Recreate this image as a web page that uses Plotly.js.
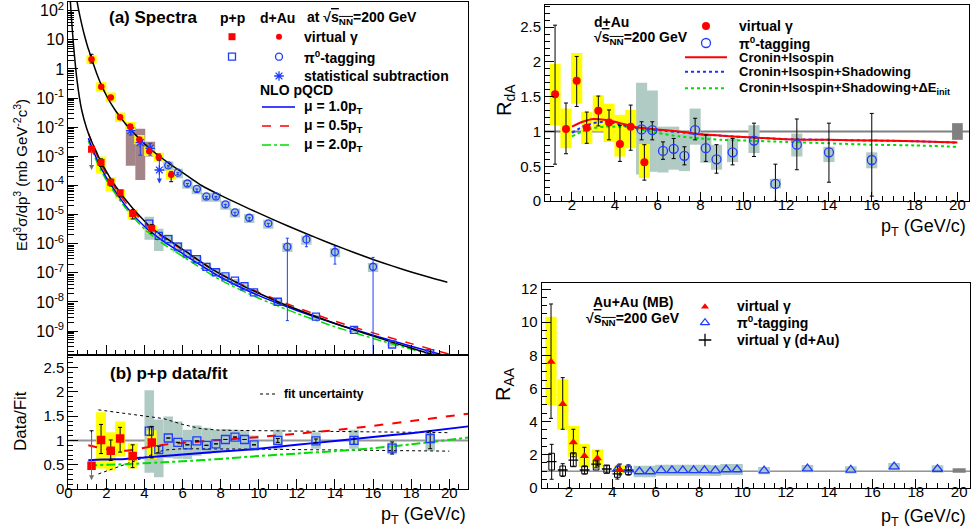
<!DOCTYPE html>
<html><head><meta charset="utf-8">
<script src="https://cdn.plot.ly/plotly-3.0.1.min.js"></script>
<style>html,body{margin:0;padding:0;background:#fff}#chart{width:972px;height:530px}</style>
</head><body><div id="chart"></div>
<script>
// ---------------- DATA ----------------
// Panel (a): spectra, d+Au
const dAuVgPt = [1.22,1.73,2.23,2.72,3.25,3.73,4.25,4.75,5.4];
const dAuVgY  = [2.14,0.245,0.106,0.0219,0.0105,3.8e-3,1.51e-3,9.3e-4,2.34e-4];
const dAuVgHi = [3.2,0.27,0.115,0.024,0.0115,4.1e-3,1.65e-3,1.2e-3,2.95e-4];
const dAuVgLo = [1.6,0.22,0.097,0.02,0.0096,3.5e-3,1.38e-3,7.5e-4,1.35e-4];
const dAuVgSysLo = [1.5,0.165,0.072,0.015,0.0072,2.6e-3,1.03e-3,6.4e-4,1.6e-4];
const dAuVgSysHi = [2.95,0.35,0.155,0.032,0.0152,5.4e-3,2.15e-3,1.33e-3,3.35e-4];

const dAuPi0Pt = [5.25,5.75,6.25,6.75,7.25,7.75,8.25,8.75,9.5,10.5,11.5,12.5,14,16];
const dAuPi0Y  = [4.9e-4,2.75e-4,1.17e-4,7.6e-5,4.2e-5,4.2e-5,2.24e-5,1.2e-5,7.8e-6,5.0e-6,7.9e-7,1.41e-6,5.2e-7,1.62e-7];
const dAuPi0Hi = [4.9e-4,2.75e-4,1.17e-4,7.6e-5,4.2e-5,4.2e-5,2.24e-5,1.2e-5,7.8e-6,5.0e-6,1.55e-6,2.0e-6,7.9e-7,3.4e-7];
const dAuPi0Lo = [4.3e-4,2.4e-4,0.95e-4,6.2e-5,3.6e-5,3.7e-5,1.8e-5,9.0e-6,6.0e-6,3.9e-6,2.3e-9,7.9e-7,2.0e-7,1e-10];
const dAuPi0SysRel = [0.36,0.36,0.34,0.34,0.34,0.34,0.34,0.34,0.34,0.34,0.34,0.34,0.34,0.34];

const dAuSubPt = [3.28,3.78,4.3,4.78];
const dAuSubY  = [7.6e-3,2.95e-3,1.9e-3,3.4e-4];
const dAuSubHi = [1.17e-2,4.2e-3,2.8e-3,7.4e-4];
const dAuSubLo = [5.4e-3,1.1e-3,1.1e-3,3.4e-4];
const dAuSubLimitTo = [null,null,null,1.17e-4];
const dAuSubSysLo = [4.8e-4,1.55e-4,9.8e-4];
const dAuSubSysHi = [1.0e-2,8.9e-3,3.16e-3];

// Panel (a): spectra, p+p
const ppVgPt = [1.22,1.72,2.23,2.72,3.38,4.38];
const ppVgY  = [1.74e-3,6.2e-4,1.29e-4,5.6e-5,1.10e-5,3.4e-6];
const ppVgHi = [1.74e-3,8.2e-4,1.65e-4,6.8e-5,1.47e-5,4.6e-6];
const ppVgLo = [1.74e-3,4.5e-4,9.7e-5,4.1e-5,7.1e-6,2.3e-6];
const ppVgLimitTo = [3.4e-4,null,null,null,null,null];
const ppVgSysLo = [null,2.6e-4,6.2e-5,3.6e-5,6.8e-6,2.2e-6];
const ppVgSysHi = [null,9.8e-4,1.9e-4,7.5e-5,1.52e-5,4.3e-6];

const ppPi0Pt = [4.25,4.75,5.25,5.75,6.25,6.75,7.25,7.75,8.25,8.75,9.25,9.75,11,13,15,17,19];
const ppPi0Y  = [4.9e-6,1.86e-6,1.45e-6,7.9e-7,4.57e-7,2.95e-7,1.6e-7,1.05e-7,7.6e-8,5.4e-8,3.47e-8,2.14e-8,1.02e-8,3.13e-9,1.10e-9,3.47e-10,1.74e-10];
const ppPi0SysLoRel = [0.28,0.3,0.61,0.65,0.68,0.69,0.8,0.81,0.78,0.77,0.78,0.86,0.81,0.84,0.83,0.85,0.76];
const ppPi0SysHiRel = [1.71,1.77,1.42,1.45,1.34,1.32,1.4,1.31,1.21,1.14,1.18,1.21,1.22,1.18,1.22,1.14,1.11];

// fits and NLO pQCD
const dAuFitPt = [0.45,0.55,0.7,0.85,1.0,1.1,1.22,1.5,1.75,2.0,2.25,2.5,2.75,3.0,3.25,3.5,3.75,4.0,4.25,4.5,4.75,5.25,5.75,6.25,7,8,9,10,11,12,13,14,15,16,17,18,19,19.9];
const dAuFitY  = [224,100,35.5,14.1,6.31,3.98,2.29,0.676,0.269,0.123,0.0631,0.0355,0.0214,0.0132,8.5e-3,5.75e-3,3.89e-3,2.69e-3,1.95e-3,1.41e-3,1.05e-3,6.0e-4,3.55e-4,2.14e-4,1.0e-4,4.57e-5,2.24e-5,1.12e-5,5.75e-6,3.02e-6,1.62e-6,8.9e-7,5.0e-7,2.88e-7,1.74e-7,1.07e-7,6.9e-8,4.8e-8];
const ppFitPt = [0.1,0.18,0.3,0.47,0.7,0.97,1.22,1.5,1.72,2.0,2.23,2.5,2.72,3.0,3.38,3.75,4.25,4.75,5.25,5.75,6.25,6.75,7.25,7.75,8.25,9.25,10,11,12,13,14,15,16,17,18,19,20];
const ppFitY  = [251,39.8,4.17,0.355,0.0398,8.9e-3,3.31e-3,1.32e-3,6.31e-4,3.02e-4,1.66e-4,9.12e-5,5.62e-5,3.31e-5,1.66e-5,8.91e-6,4.07e-6,2.29e-6,1.38e-6,8.32e-7,5.01e-7,2.95e-7,1.78e-7,1.12e-7,7.41e-8,3.39e-8,2.0e-8,1.02e-8,5.62e-9,3.16e-9,1.82e-9,1.10e-9,6.76e-10,4.17e-10,2.63e-10,1.66e-10,1.07e-10];
const nloPt  = [1.05,1.5,2,3,4,5,6,8,10,12,14,16,18,20];
const nloMu10 = [4.17e-3,7.94e-4,1.86e-4,2.04e-5,3.89e-6,1.20e-6,4.57e-7,7.08e-8,1.66e-8,5.13e-9,1.82e-9,7.24e-10,3.02e-10,1.32e-10];
const nloMu05 = [6.31e-3,1.12e-3,2.45e-4,2.63e-5,5.13e-6,1.62e-6,6.17e-7,8.91e-8,2.14e-8,6.46e-9,2.19e-9,8.71e-10,3.72e-10,1.62e-10];
const nloMu20 = [3.39e-3,6.46e-4,1.51e-4,1.70e-5,3.16e-6,9.77e-7,3.72e-7,5.62e-8,1.35e-8,4.07e-9,1.41e-9,5.62e-10,2.40e-10,1.07e-10];

// Panel (b): data/fit
const ppVgRatio   = [0.48,1.01,0.79,1.04,0.68,0.96];
const ppVgRatioHi = [1.2,1.33,1.01,1.27,0.91,1.29];
const ppVgRatioLo = [0.48,0.73,0.59,0.76,0.44,0.64];
const ppVgRatioLimitTo = [0.18,null,null,null,null,null];
const ppVgRatioSysLo = [null,0.42,0.38,0.67,0.42,0.62];
const ppVgRatioSysHi = [null,1.58,1.17,1.39,0.94,1.21];
const ppPi0Ratio   = [1.19,0.81,1.05,0.96,0.91,0.99,0.90,0.93,1.02,1.07,1.02,0.91,1.0,0.99,1.0,0.84,1.04];
const ppPi0RatioHi = [1.28,0.88,1.05,0.96,0.91,0.99,0.90,0.93,1.02,1.07,1.02,0.91,1.04,1.03,1.08,0.97,1.2];
const ppPi0RatioLo = [1.1,0.74,1.05,0.96,0.91,0.99,0.90,0.93,1.02,1.07,1.02,0.91,0.96,0.95,0.92,0.72,0.83];
const nloRatioPt = [1.05,1.5,2,3,4,5,6,8,10,12,14,16,18,21];
const nloRatioMu10 = [0.59,0.6,0.61,0.62,0.65,0.68,0.71,0.77,0.83,0.91,0.99,1.07,1.15,1.29];
const nloRatioMu05 = [0.9,0.86,0.82,0.79,0.85,0.91,0.95,1.01,1.07,1.14,1.21,1.3,1.4,1.55];
const nloRatioMu20 = [0.48,0.49,0.5,0.51,0.53,0.55,0.57,0.62,0.68,0.73,0.78,0.84,0.92,1.06];
const fitUncUpPt = [1.58,3,5,6,7,8,10,14,20];
const fitUncUp   = [1.63,1.56,1.45,1.33,1.24,1.21,1.2,1.18,1.16];
const fitUncLoPt = [1.58,3,4,5,6,10,14,18,20];
const fitUncLo   = [0.31,0.5,0.65,0.8,0.83,0.82,0.81,0.8,0.78];

// R_dA
const rdaVgPt = [1.21,1.72,2.22,2.69,3.23,3.73,4.24,4.74,5.38];
const rdaVg   = [1.535,1.036,1.73,1.055,1.30,1.13,0.82,1.07,0.557];
const rdaVgHi = [2.53,1.41,2.08,1.28,1.51,1.31,1.09,1.38,0.81];
const rdaVgLo = [0.53,0.68,1.36,0.83,1.08,0.88,0.57,0.73,0.30];
const rdaVgSysLo = [1.09,0.76,1.4,0.82,1.0,0.85,0.64,0.76,0.33];
const rdaVgSysHi = [1.97,1.33,2.13,1.28,1.52,1.4,1.24,1.31,0.82];
const rdaPi0Pt = [5.25,5.75,6.25,6.75,7.25,7.75,8.25,8.75,9.5,10.5,11.5,12.5,14,16];
const rdaPi0   = [1.03,1.02,0.72,0.75,0.65,1.02,0.76,0.60,0.70,0.87,0.245,0.81,0.70,0.59];
const rdaPi0Hi = [1.14,1.14,0.85,0.90,0.78,1.19,0.95,0.81,0.90,1.12,0.53,1.18,1.12,1.26];
const rdaPi0Lo = [0.88,0.88,0.60,0.61,0.52,0.88,0.57,0.40,0.52,0.64,0.0,0.45,0.27,0.07];
const rdaPi0SysLo = [0.38,0.42,0.41,0.45,0.43,0.81,0.55,0.45,0.56,0.69,0.18,0.64,0.56,0.47];
const rdaPi0SysHi = [1.70,1.59,1.07,1.07,0.97,1.33,0.97,0.81,0.90,1.09,0.32,0.97,0.78,0.70];
const thPt = [2,2.5,3,3.5,4,4.5,5,6,7,8,9,10,12,14,16,18,20];
const thCronin = [1.07,1.14,1.18,1.17,1.14,1.10,1.06,1.03,1.0,0.96,0.94,0.92,0.89,0.88,0.87,0.86,0.84];
const thShadow = [0.98,1.07,1.12,1.14,1.12,1.08,1.05,1.02,0.99,0.96,0.94,0.92,0.89,0.88,0.87,0.86,0.84];
const thEloss  = [0.93,1.0,1.05,1.07,1.07,1.07,1.04,0.98,0.93,0.9,0.88,0.87,0.85,0.83,0.81,0.8,0.78];
const rdaNormPt = 20, rdaNorm = [0.88,1.12];

// R_AA
const raaVgPt = [1.17,1.71,2.2,2.71,3.31,4.35];
const raaVg   = [7.61,5.06,2.74,1.91,1.78,1.07];
const raaVgHi = [11.1,6.65,3.53,2.44,2.22,1.43];
const raaVgLo = [4.19,3.53,1.87,1.27,1.31,0.77];
const raaVgSysLo = [5.0,3.5,1.87,1.23,1.27,0.87];
const raaVgSysHi = [10.33,6.55,3.73,2.64,2.32,1.37];
const raaPi0Pt = [4.25,4.75,5.25,5.75,6.25,6.75,7.25,7.75,8.25,8.75,9.25,9.75,11,13,15,17,19];
const raaPi0   = [1.13,1.1,0.98,0.98,1.05,1.05,1.05,1.05,1.05,1.03,1.1,1.1,1.03,1.15,1.08,1.27,1.13];
const raaPi0SysAbs = [0,0,0.35,0.35,0.33,0.33,0.33,0.33,0.33,0.33,0.33,0.33,0.22,0.22,0.22,0.22,0.22];
const raaDAuPt = [1.2,1.71,2.2,2.72,3.25,3.74,4.23,4.74];
const raaDAu   = [1.57,1.07,1.67,1.07,1.43,1.13,0.83,1.07];
const raaDAuHi = [2.62,1.45,2.05,1.3,1.62,1.33,1.27,1.38];
const raaDAuLo = [0.51,0.68,1.3,0.83,1.2,0.9,0.52,0.76];
const raaDAuSysLo = [1.07,0.71,1.27,0.83,1.07,0.87,0.63,0.79];
const raaDAuSysHi = [2.08,1.31,2.11,1.31,1.67,1.37,1.07,1.31];
const raaNormPt = 20, raaNorm = [0.91,1.17];

// ---------------- DRAWING ----------------
const W = 972, H = 530;
const F = 'Liberation Sans, Arial, Helvetica, sans-serif';
const px = v => v / W, py = v => 1 - v / H;
const RED = '#ff0000', BLUE = 'rgb(30,60,255)', YEL = '#ffff00', TEAL = 'rgb(176,203,196)', BROWN = 'rgb(163,133,137)';

const shapes = [];
const annotations = [];
function rects(xs, lo, hi, hw, xr, yr, fill, lineColor) {
  xs.forEach((x, i) => {
    if (lo[i] == null || hi[i] == null) return;
    shapes.push({type:'rect', xref:xr, yref:yr, x0:x-hw, x1:x+hw, y0:lo[i], y1:hi[i],
      fillcolor: fill, line: lineColor ? {color:lineColor, width:1} : {width:0}, layer:'below'});
  });
}
function hline(xr, yr, x0, x1, y, color, w) {
  shapes.push({type:'line', xref:xr, yref:yr, x0:x0, x1:x1, y0:y, y1:y, line:{color:color, width:w}, layer:'below'});
}
function errs(y, hi, lo, color, cap) {
  return {type:'data', symmetric:false, array: hi.map((h,i)=>h-y[i]), arrayminus: lo.map((l,i)=>y[i]-l),
    color: color, thickness: 1, width: cap == null ? 2 : cap};
}
function txt(x, y, text, size, align, extra) {
  annotations.push(Object.assign({xref:'paper', yref:'paper', x:px(x), y:py(y), text:text, showarrow:false,
    xanchor: align || 'left', yanchor:'middle', font:{family:F, size:size, color:'black'}}, extra || {}));
}
function arrow(x, yFrom, yTo, xr, yr, color, log) {
  annotations.push({xref:xr, yref:yr, axref:xr, ayref:yr, x:x, ax:x,
    y: log ? Math.log10(yTo) : yTo, ay: log ? Math.log10(yFrom) : yFrom,
    text:'', showarrow:true, arrowhead:2, arrowsize:1, arrowwidth:1, arrowcolor:color, standoff:0});
}
function pline(x0, x1, y, color, dash, w) {
  shapes.push({type:'line', xref:'paper', yref:'paper', x0:px(x0), x1:px(x1), y0:py(y), y1:py(y),
    line:{color:color, width:w, dash:dash}});
}

// ---- boxes panel (a)  (shape coordinates are data values)
rects(dAuSubPt.slice(0,3), dAuSubSysLo, dAuSubSysHi, 0.26, 'x', 'y', BROWN);
rects(dAuPi0Pt, dAuPi0Y.map((v,i)=>v*(1-dAuPi0SysRel[i])), dAuPi0Y.map((v,i)=>v*(1+dAuPi0SysRel[i])), 0.27, 'x', 'y', TEAL);
rects(ppPi0Pt, ppPi0Y.map((v,i)=>v*ppPi0SysLoRel[i]), ppPi0Y.map((v,i)=>v*ppPi0SysHiRel[i]), 0.25, 'x', 'y', TEAL);
rects(dAuVgPt, dAuVgSysLo, dAuVgSysHi, 0.27, 'x', 'y', YEL);
rects(ppVgPt, ppVgSysLo, ppVgSysHi, 0.27, 'x', 'y', YEL);
// ---- panel (b)
hline('x2', 'y2', 0, 21, 1, 'rgb(150,150,150)', 2);
rects(ppPi0Pt, ppPi0Ratio.map((v,i)=>v*ppPi0SysLoRel[i]), ppPi0Ratio.map((v,i)=>v*ppPi0SysHiRel[i]), 0.25, 'x2', 'y2', TEAL);
rects(ppVgPt, ppVgRatioSysLo, ppVgRatioSysHi, 0.26, 'x2', 'y2', YEL);
// ---- R_dA
hline('x3', 'y3', 0.74, 20.54, 1, 'rgb(128,128,128)', 2);
rects(rdaPi0Pt, rdaPi0SysLo, rdaPi0SysHi, 0.26, 'x3', 'y3', TEAL);
rects(rdaVgPt, rdaVgSysLo, rdaVgSysHi, 0.26, 'x3', 'y3', YEL);
rects([rdaNormPt], [rdaNorm[0]], [rdaNorm[1]], 0.25, 'x3', 'y3', 'rgb(128,128,128)');
// ---- R_AA
hline('x4', 'y4', 0.74, 20.5, 1, 'rgb(90,90,90)', 1);
rects(raaPi0Pt, raaPi0.map((v,i)=>raaPi0SysAbs[i] ? v-raaPi0SysAbs[i] : null), raaPi0.map((v,i)=>raaPi0SysAbs[i] ? v+raaPi0SysAbs[i] : null), 0.27, 'x4', 'y4', TEAL);
rects(raaVgPt, raaVgSysLo, raaVgSysHi, 0.26, 'x4', 'y4', YEL);
rects(raaDAuPt, raaDAuSysLo, raaDAuSysHi, 0.13, 'x4', 'y4', 'rgba(0,0,0,0)', 'black');
rects([raaNormPt], [raaNorm[0]], [raaNorm[1]], 0.3, 'x4', 'y4', 'rgb(128,128,128)');

// arrows (upper limits)
ppVgLimitTo.forEach((t,i)=>{ if (t!=null) arrow(ppVgPt[i], ppVgY[i], t, 'x', 'y', 'rgb(110,110,110)', true); });
dAuSubLimitTo.forEach((t,i)=>{ if (t!=null) arrow(dAuSubPt[i], dAuSubY[i], t, 'x', 'y', BLUE, true); });
ppVgRatioLimitTo.forEach((t,i)=>{ if (t!=null) arrow(ppVgPt[i], ppVgRatioHi[i], t, 'x2', 'y2', 'rgb(110,110,110)', false); });

const traces = [];
const L = (x, y, xa, ya, color, dash, w, shape) => ({x:x, y:y, xaxis:xa, yaxis:ya, mode:'lines', type:'scatter',
  line:{color:color, dash:dash||'solid', width:w||1.5, shape:shape||'linear', smoothing:0.6}, hoverinfo:'skip'});
const M = (x, y, xa, ya, symbol, color, size, err, open) => ({x:x, y:y, xaxis:xa, yaxis:ya, mode:'markers', type:'scatter',
  marker:{symbol:symbol, color:color, size:size, line:{color:color, width: open ? 1.3 : 0}}, error_y: err, cliponaxis:true, hoverinfo:'skip'});

// panel (a)
traces.push(L(nloPt, nloMu20, 'x', 'y', '#00dd00', 'dashdot', 1.5, 'spline'));
traces.push(L(nloPt, nloMu05, 'x', 'y', RED, 'dash', 1.5, 'spline'));
traces.push(L(nloPt, nloMu10, 'x', 'y', '#0000ff', 'solid', 1.5, 'spline'));
traces.push(L(ppFitPt, ppFitY, 'x', 'y', 'black', 'solid', 1.5, 'spline'));
traces.push(L(dAuFitPt, dAuFitY, 'x', 'y', 'black', 'solid', 1.5, 'spline'));
traces.push(M(dAuSubPt, dAuSubY, 'x', 'y', 'asterisk-open', BLUE, 8, errs(dAuSubY, dAuSubHi, dAuSubLo, BLUE), true));
traces.push(M(dAuPi0Pt, dAuPi0Y, 'x', 'y', 'circle-open', BLUE, 7, errs(dAuPi0Y, dAuPi0Hi, dAuPi0Lo, BLUE, 1.5), true));
traces.push(M(ppPi0Pt, ppPi0Y, 'x', 'y', 'square-open', BLUE, 7, null, true));
traces.push(M(dAuVgPt, dAuVgY, 'x', 'y', 'circle', RED, 6.5, errs(dAuVgY, dAuVgHi, dAuVgLo, 'black')));
traces.push(M(ppVgPt, ppVgY, 'x', 'y', 'square', RED, 7, errs(ppVgY, ppVgHi, ppVgLo, 'black')));
// panel (b)
traces.push(L(fitUncUpPt, fitUncUp, 'x2', 'y2', 'black', 'dot', 1));
traces.push(L(fitUncLoPt, fitUncLo, 'x2', 'y2', 'black', 'dot', 1));
traces.push(L(nloRatioPt, nloRatioMu20, 'x2', 'y2', '#00dd00', 'dashdot', 2, 'spline'));
traces.push(L(nloRatioPt, nloRatioMu05, 'x2', 'y2', RED, 'dash', 2, 'spline'));
traces.push(L(nloRatioPt, nloRatioMu10, 'x2', 'y2', '#0000ff', 'solid', 2, 'spline'));
traces.push(M(ppPi0Pt, ppPi0Ratio, 'x2', 'y2', 'square-open', BLUE, 8, errs(ppPi0Ratio, ppPi0RatioHi, ppPi0RatioLo, 'black'), true));
traces.push(M(ppVgPt, ppVgRatio, 'x2', 'y2', 'square', RED, 8.5, errs(ppVgRatio, ppVgRatioHi, ppVgRatioLo, 'black')));
// R_dA
traces.push(L(thPt, thEloss, 'x3', 'y3', '#00dd00', 'dot', 2, 'spline'));
traces.push(L(thPt, thShadow, 'x3', 'y3', '#2030ff', 'dot', 2, 'spline'));
traces.push(L(thPt, thCronin, 'x3', 'y3', RED, 'solid', 2, 'spline'));
traces.push(M(rdaPi0Pt, rdaPi0, 'x3', 'y3', 'circle-open', BLUE, 9, errs(rdaPi0, rdaPi0Hi, rdaPi0Lo, 'black'), true));
traces.push(M(rdaVgPt, rdaVg, 'x3', 'y3', 'circle', RED, 8, errs(rdaVg, rdaVgHi, rdaVgLo, 'black')));
// R_AA
traces.push(M(raaDAuPt, raaDAu, 'x4', 'y4', 'line-ew-open', 'black', 7, errs(raaDAu, raaDAuHi, raaDAuLo, 'black'), true));
traces.push(M(raaPi0Pt, raaPi0, 'x4', 'y4', 'triangle-up-open', BLUE, 9, null, true));
traces.push(M(raaVgPt, raaVg, 'x4', 'y4', 'triangle-up', RED, 8, errs(raaVg, raaVgHi, raaVgLo, 'black')));

// legend symbols (pixel overlay axis)
const legSym = [
  [232,36.7,'square',RED,7,false],[279,36.7,'circle',RED,6,false],
  [232,56.7,'square-open',BLUE,7,true],[279,56.7,'circle-open',BLUE,7,true],
  [279,76,'asterisk-open',BLUE,8,true],
  [706,26,'circle',RED,8,false],[706,43,'circle-open',BLUE,9,true],
  [705,306.7,'triangle-up',RED,7,false],[705,322.7,'triangle-up-open',BLUE,8,true],[705,340,'cross-thin-open','black',9,true]
];
legSym.forEach(s => traces.push({x:[s[0]], y:[s[1]], xaxis:'x5', yaxis:'y5', type:'scatter', mode:'markers', cliponaxis:false,
  marker:{symbol:s[2], color:s[3], size:s[4], line:{color:s[3], width: s[5] ? 1.3 : 0}}, hoverinfo:'skip'}));

// legend lines
pline(262, 295, 107, '#0000ff', 'solid', 1.5);
pline(262, 295, 126, RED, 'dash', 1.5);
pline(262, 290, 145, '#00dd00', 'dashdot', 1.5);
pline(260, 277, 394, 'black', 'dot', 1);
pline(685, 727, 57.3, RED, 'solid', 2);
pline(685, 727, 71.7, '#2030ff', 'dot', 2);
pline(685, 727, 88.3, '#00dd00', 'dot', 2);

// texts
const SQ = '√<span style="text-decoration:overline">s<sub>NN</sub></span>';
txt(107, 18, '<b>(a) Spectra</b>', 17);
txt(232, 18, '<b>p+p</b>', 14, 'center');
txt(277, 18, '<b>d+Au</b>', 14, 'center');
txt(305, 18, '<b>at ' + SQ + '=200 GeV</b>', 14);
txt(302, 36.7, '<b>virtual γ</b>', 14);
txt(302, 56.7, '<b>π<sup>0</sup>-tagging</b>', 14);
txt(302, 76, '<b>statistical subtraction</b>', 14);
txt(258, 90, '<b>NLO pQCD</b>', 14);
txt(302, 107, '<b>μ = 1.0p<sub>T</sub></b>', 14);
txt(302, 126, '<b>μ = 0.5p<sub>T</sub></b>', 14);
txt(302, 145, '<b>μ = 2.0p<sub>T</sub></b>', 14);
txt(108, 373, '<b>(b) p+p data/fit</b>', 17);
txt(282, 394, '<b>fit uncertainty</b>', 12);
txt(468, 515, 'p<sub>T</sub> (GeV/c)', 18, 'right');
txt(20, 421, 'Data/Fit', 17, 'center', {textangle:-90});
txt(20, 175, 'Ed<sup>3</sup>σ/dp<sup>3</sup> (mb GeV<sup>-2</sup>c<sup>3</sup>)', 15, 'center', {textangle:-90});
txt(592, 21.7, '<b>d+Au</b>', 14);
txt(592, 38, '<b>' + SQ + '=200 GeV</b>', 14);
txt(737, 26, '<b>virtual γ</b>', 14);
txt(737, 43, '<b>π<sup>0</sup>-tagging</b>', 14);
txt(737, 57.3, '<b>Cronin+Isospin</b>', 13);
txt(737, 71.7, '<b>Cronin+Isospin+Shadowing</b>', 13);
txt(737, 88.3, '<b>Cronin+Isospin+Shadowing+ΔE<sub>init</sub></b>', 13);
txt(968, 227, 'p<sub>T</sub> (GeV/c)', 18, 'right');
txt(506, 100, 'R<sub>dA</sub>', 20, 'center', {textangle:-90});
txt(633, 302, '<b>Au+Au (MB)</b>', 14, 'center');
txt(633, 319, '<b>' + SQ + '=200 GeV</b>', 14, 'center');
txt(735, 306, '<b>virtual γ</b>', 14);
txt(735, 322, '<b>π<sup>0</sup>-tagging</b>', 14);
txt(735, 340, '<b>virtual γ (d+Au)</b>', 14);
txt(968, 517, 'p<sub>T</sub> (GeV/c)', 18, 'right');
txt(504, 384, 'R<sub>AA</sub>', 20, 'center', {textangle:-90});

// axes
const base = {showline:true, linecolor:'black', linewidth:1, mirror:true, ticks:'inside', tickcolor:'black',
  showgrid:false, zeroline:false, tickfont:{family:F, size:15, color:'black'}, fixedrange:true, ticklabeloverflow:'allow'};
const mn = (dt, len) => ({ticks:'inside', ticklen:len, dtick:dt, tick0:0, tickcolor:'black', showgrid:false});
const majVals = [], majText = [], minVals = [];
for (let d = -9; d <= 2; d++) {
  majVals.push(Math.pow(10, d));
  majText.push(d === 0 ? '1' : d === 1 ? '10' : '10<sup>' + d + '</sup>');
}
for (let d = -10; d <= 2; d++) for (let k = 2; k <= 9; k++) minVals.push(k * Math.pow(10, d));

const layout = {
  width: W, height: H, margin:{l:0, r:0, t:0, b:0}, paper_bgcolor:'white', plot_bgcolor:'rgba(0,0,0,0)',
  showlegend:false, hovermode:false, font:{family:F, color:'black'},
  xaxis: Object.assign({}, base, {domain:[px(68.3), px(468.3)], range:[0,21], anchor:'y', showticklabels:false,
    dtick:2, tick0:0, ticklen:10, minor:mn(0.5,5)}),
  yaxis: Object.assign({}, base, {domain:[py(355), py(2)], type:'log', range:[-9.82, 2.30], anchor:'x',
    tickmode:'array', tickvals:majVals, ticktext:majText, ticklen:10, tickfont:{family:F, size:16, color:'black'},
    minor:{ticks:'inside', ticklen:6, tickmode:'array', tickvals:minVals, tickcolor:'black', showgrid:false}}),
  xaxis2: Object.assign({}, base, {domain:[px(68.3), px(468.3)], range:[0,21], anchor:'y2', dtick:2, tick0:0,
    ticklen:10, minor:mn(0.5,5), ticklabelstandoff:-10}),
  yaxis2: Object.assign({}, base, {domain:[py(489), py(355)], range:[0,2.76], anchor:'x2', dtick:0.5, tick0:0,
    ticklen:10, minor:mn(0.1,5)}),
  xaxis3: Object.assign({}, base, {domain:[px(545), px(969)], range:[0.74,20.54], anchor:'y3', dtick:2, tick0:0,
    ticklen:9, minor:mn(0.5,5), ticklabelstandoff:-10}),
  yaxis3: Object.assign({}, base, {domain:[py(201), py(5)], range:[0,2.82], anchor:'x3', dtick:0.5, tick0:0,
    ticklen:9, minor:mn(0.1,5)}),
  xaxis4: Object.assign({}, base, {domain:[px(541.7), px(970)], range:[0.74,20.5], anchor:'y4', dtick:2, tick0:0,
    ticklen:9, minor:mn(0.5,5), ticklabelstandoff:-10}),
  yaxis4: Object.assign({}, base, {domain:[py(487.7), py(283.3)], range:[0,12.35], anchor:'x4', dtick:2, tick0:0,
    ticklen:9, minor:mn(0.5,5)}),
  xaxis5: {domain:[0,1], range:[0,W], visible:false, anchor:'y5', fixedrange:true},
  yaxis5: {domain:[0,1], range:[H,0], visible:false, anchor:'x5', fixedrange:true},
  shapes: shapes, annotations: annotations
};
Plotly.newPlot('chart', traces, layout, {staticPlot:true, displayModeBar:false});
</script></body></html>
